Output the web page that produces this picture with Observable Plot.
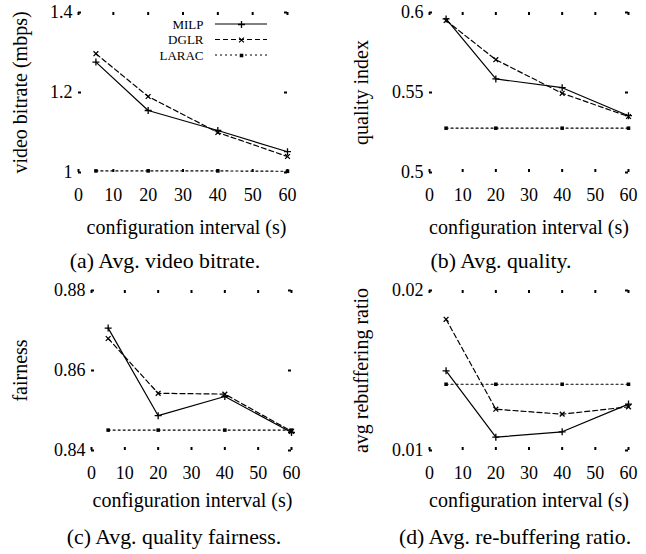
<!DOCTYPE html>
<html><head><meta charset="utf-8">
<script src="https://cdn.jsdelivr.net/npm/d3@7"></script>
<script src="https://cdn.jsdelivr.net/npm/@observablehq/plot@0.6"></script>
<style>
html,body{margin:0;padding:0;background:#fff;}
#fig{position:relative;width:646px;height:554px;overflow:hidden;font-family:"Liberation Serif","Times New Roman",serif;color:#000;background:#fff;}
.panel{position:absolute;}
.cap{position:absolute;width:320px;text-align:center;font-size:21.8px;line-height:26px;white-space:pre;}
</style></head><body><div id="fig"></div>
<script>
// ---------- data ----------
const seriesNames = ["MILP", "DGLR", "LARAC"];
const intervals = [5, 20, 40, 60];
const xTicks = [0, 10, 20, 30, 40, 50, 60];
const xLabel = "configuration interval (s)";

const bitrateMILP  = [1.276, 1.155, 1.105, 1.052];
const bitrateDGLR  = [1.297, 1.190, 1.100, 1.040];
const bitrateLARAC = [1.004, 1.004, 1.004, 1.003];
const bitrateTicks = [1, 1.2, 1.4];

const qualityMILP  = [0.5960, 0.5585, 0.5530, 0.5355];
const qualityDGLR  = [0.5950, 0.5705, 0.5495, 0.5350];
const qualityLARAC = [0.5277, 0.5277, 0.5277, 0.5277];
const qualityTicks = [0.5, 0.55, 0.6];

const fairMILP  = [0.8706, 0.8487, 0.8535, 0.8445];
const fairDGLR  = [0.8680, 0.8543, 0.8541, 0.8448];
const fairLARAC = [0.8451, 0.8451, 0.8451, 0.8451];
const fairTicks = [0.84, 0.86, 0.88];

const rebufMILP  = [0.01498, 0.01083, 0.01117, 0.01290];
const rebufDGLR  = [0.01820, 0.01258, 0.01227, 0.01273];
const rebufLARAC = [0.01414, 0.01414, 0.01414, 0.01414];
const rebufTicks = [0.01, 0.02];

// ---------- styles ----------
const style = {
  MILP:  {dash: null,  symbol: "plus",   r: 2.4, filled: false},
  DGLR:  {dash: "5,3", symbol: "times",  r: 2.3, filled: false},
  LARAC: {dash: "2,3", symbol: "square", r: 2.0, filled: true}
};

const panels = [
  {left: 0,   frame: {L: 78,  R: 287, T: 12,  B: 172}, values: [bitrateMILP, bitrateDGLR, bitrateLARAC], yTicks: bitrateTicks,
   yLabel: "video bitrate (mbps)", yLabelX: 20, xLabelX: 186, xLabelY: 227, legend: true,
   caption: "(a) Avg. video bitrate.", capX: 165, capY: 261},
  {left: 323, frame: {L: 429, R: 628, T: 12,  B: 172}, values: [qualityMILP, qualityDGLR, qualityLARAC], yTicks: qualityTicks,
   yLabel: "quality index", yLabelX: 361, xLabelX: 528.5, xLabelY: 227, legend: false,
   caption: "(b) Avg. quality.", capX: 501, capY: 261},
  {left: 0,   frame: {L: 91,  R: 291, T: 290, B: 450}, values: [fairMILP, fairDGLR, fairLARAC], yTicks: fairTicks,
   yLabel: "fairness", yLabelX: 20, xLabelX: 192, xLabelY: 500, legend: false,
   caption: "(c) Avg. quality fairness.", capX: 174, capY: 537},
  {left: 323, frame: {L: 429, R: 628, T: 290, B: 450}, values: [rebufMILP, rebufDGLR, rebufLARAC], yTicks: rebufTicks,
   yLabel: "avg rebuffering ratio", yLabelX: 361, xLabelX: 528.5, xLabelY: 500, legend: false,
   caption: "(d) Avg. re-buffering ratio.", capX: 515, capY: 537}
];

const fig = document.getElementById("fig");
const NS = "http://www.w3.org/2000/svg";

function dotMark(data, s, opts) {
  const st = style[s];
  return Plot.dot(data, {
    ...opts, symbol: st.symbol, r: st.r,
    fill: st.filled ? "black" : "none",
    stroke: st.filled ? "none" : "black",
    strokeWidth: 1.3
  });
}

for (const p of panels) {
  const {L, R, T, B} = p.frame;
  const mt = 11;
  const fw = R - L, fh = B - T;
  const width = 323;
  const height = fh + mt + 72;
  const top = T - mt;
  const rows = seriesNames.flatMap((s, i) => intervals.map((x, j) => ({series: s, x, y: p.values[i][j]})));

  const marks = [
    // inward mirror ticks (gnuplot style)
    Plot.ruleX(xTicks, {x: d => d, insetTop: fh - 3, stroke: "black", strokeWidth: 2}),
    Plot.ruleX(xTicks, {x: d => d, insetBottom: fh - 3, stroke: "black", strokeWidth: 2}),
    Plot.ruleY(p.yTicks, {y: d => d, insetRight: fw - 3, stroke: "black", strokeWidth: 2}),
    Plot.ruleY(p.yTicks, {y: d => d, insetLeft: fw - 3, stroke: "black", strokeWidth: 2}),
    Plot.axisX({ticks: xTicks, tickSize: 0, tickPadding: 16, label: null, tickFormat: d => String(d), fontSize: 18}),
    Plot.axisY({ticks: p.yTicks, tickSize: 0, tickPadding: 6, label: null, tickFormat: d => String(d), fontSize: 18}),
  ];
  for (const s of seriesNames) {
    const data = rows.filter(d => d.series === s);
    marks.push(Plot.line(data, {x: "x", y: "y", stroke: "black", strokeWidth: 1.2, strokeDasharray: style[s].dash}));
    marks.push(dotMark(data, s, {x: "x", y: "y"}));
  }
  marks.push(Plot.text([p.yLabel], {x: null, y: null, text: d => d, frameAnchor: "left", rotate: -90,
    textAnchor: "middle", lineAnchor: "middle", dx: p.yLabelX - L, fontSize: 20}));
  marks.push(Plot.text([xLabel], {x: null, y: null, text: d => d, frameAnchor: "bottom", textAnchor: "middle",
    dx: p.xLabelX - (L + R) / 2, dy: p.xLabelY - B, lineAnchor: "middle", fontSize: 20}));

  if (p.legend) {
    const legendRowsY = [24, 39.5, 55];   // page px
    const textRight = 203, lineX1 = 215, lineX2 = 267, markX = 241;
    seriesNames.forEach((s, i) => {
      marks.push(Plot.text([s], {x: null, y: null, text: d => d, frameAnchor: "top-left",
        dx: textRight - L, dy: legendRowsY[i] - T, textAnchor: "end", lineAnchor: "middle", fontSize: 13}));
      marks.push(dotMark([s], s, {x: null, y: null, frameAnchor: "top-left", dx: markX - L, dy: legendRowsY[i] - T}));
    });
    marks.push(() => {
      const g = document.createElementNS(NS, "g");
      seriesNames.forEach((s, i) => {
        const ln = document.createElementNS(NS, "line");
        ln.setAttribute("x1", lineX1 - p.left);
        ln.setAttribute("x2", lineX2 - p.left);
        ln.setAttribute("y1", legendRowsY[i] - top);
        ln.setAttribute("y2", legendRowsY[i] - top);
        ln.setAttribute("stroke", "black");
        ln.setAttribute("stroke-width", 1.2);
        if (style[s].dash) ln.setAttribute("stroke-dasharray", style[s].dash);
        g.appendChild(ln);
      });
      return g;
    });
  }

  const chart = Plot.plot({
    width, height,
    marginLeft: L - p.left, marginRight: p.left + width - R,
    marginTop: mt, marginBottom: height - mt - fh,
    x: {domain: [0, 60]},
    y: {domain: [p.yTicks[0], p.yTicks[p.yTicks.length - 1]]},
    style: {fontFamily: "'Liberation Serif', 'Times New Roman', serif", fontSize: "18px", background: "transparent", overflow: "visible", color: "black"},
    marks
  });
  const wrap = document.createElement("div");
  wrap.className = "panel";
  wrap.style.left = p.left + "px";
  wrap.style.top = top + "px";
  wrap.appendChild(chart);
  fig.appendChild(wrap);

  const cap = document.createElement("div");
  cap.className = "cap";
  cap.textContent = p.caption;
  cap.style.left = (p.capX - 160) + "px";
  cap.style.top = (p.capY - 13) + "px";
  fig.appendChild(cap);
}
</script></body></html>
